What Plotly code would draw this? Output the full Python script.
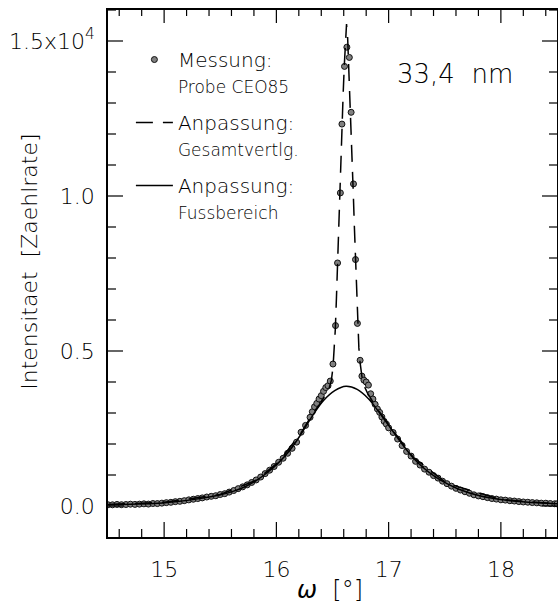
import plotly.graph_objects as go

# ---- measured data (omega in degrees, intensity in counts) ----
meas_x = [14.50, 14.54, 14.58, 14.62, 14.66, 14.70, 14.74, 14.78, 14.82, 14.86,
          14.90, 14.94, 14.98, 15.02, 15.06, 15.10, 15.14, 15.18, 15.22, 15.26,
          15.30, 15.34, 15.38, 15.42, 15.46, 15.50, 15.54, 15.58, 15.62, 15.66,
          15.70, 15.74, 15.78, 15.82, 15.86, 15.90, 15.94, 15.98, 16.02, 16.06,
          16.10, 16.14, 16.18, 16.22, 16.26, 16.30, 16.32, 16.34, 16.36, 16.38,
          16.40, 16.42, 16.44, 16.46, 16.48, 16.504, 16.527, 16.545, 16.570, 16.584,
          16.607, 16.628, 16.650, 16.666, 16.687, 16.705, 16.722, 16.746, 16.762, 16.78,
          16.80, 16.82, 16.84, 16.86, 16.88, 16.90, 16.92, 16.94, 16.96, 16.98,
          17.00, 17.04, 17.08, 17.12, 17.16, 17.20, 17.24, 17.28, 17.32, 17.36,
          17.40, 17.44, 17.48, 17.52, 17.56, 17.60, 17.64, 17.68, 17.72, 17.76,
          17.80, 17.84, 17.88, 17.92, 17.96, 18.00, 18.04, 18.08, 18.12, 18.16,
          18.20, 18.24, 18.28, 18.32, 18.36, 18.40, 18.44, 18.48, 18.50]
meas_y = [40, 38, 50, 42, 48, 58, 52, 60, 70, 62,
          80, 78, 92, 108, 118, 140, 150, 172, 198, 218,
          240, 262, 290, 312, 332, 370, 398, 448, 500, 560,
          618, 682, 760, 840, 935, 1045, 1155, 1275, 1410, 1540,
          1700, 1860, 2060, 2380, 2600, 2860, 3040, 3200, 3310, 3450,
          3560, 3700, 3820, 3880, 4030, 4580, 5820, 7840, 10100, 12320,
          14180, 14800, 14470, 12700, 10390, 7950, 5890, 4700, 4190, 4060,
          4000, 3900, 3620, 3450, 3280, 3130, 3020, 2870, 2730, 2640,
          2520, 2370, 2160, 1950, 1760, 1610, 1440, 1320, 1190, 1090,
          980, 900, 800, 720, 640, 570, 515, 460, 410, 360,
          325, 300, 270, 240, 222, 200, 190, 170, 160, 142,
          130, 122, 110, 102, 92, 90, 80, 72, 70]

# ---- fit: total distribution (dashed) ----
tot_x = [14.50, 15.00, 15.50, 15.82, 16.02, 16.22, 16.32, 16.40, 16.44, 16.47,
         16.49, 16.505, 16.515, 16.525, 16.535, 16.545, 16.555, 16.565, 16.575, 16.585,
         16.595, 16.605, 16.615, 16.625, 16.635, 16.645, 16.655, 16.665, 16.675, 16.685,
         16.695, 16.705, 16.715, 16.725, 16.735, 16.745, 16.765, 16.785, 16.815, 16.845,
         16.88, 16.92, 17.02, 17.22, 17.52, 18.00, 18.50]
tot_y = [50, 120, 370, 830, 1420, 2360, 2960, 3350, 3600, 3800,
         4050, 4500, 5100, 5700, 6700, 7900, 9000, 10100, 11300, 12400,
         13300, 14200, 15100, 15550, 15100, 14200, 13300, 12400, 11300, 10100,
         9000, 7900, 6700, 5700, 5100, 4650, 4100, 3850, 3620, 3450,
         3220, 3030, 2520, 1570, 730, 210, 70]

# ---- fit: foot region (solid) ----
foot_x = [14.50, 14.70, 14.90, 15.10, 15.30, 15.50, 15.62, 15.72, 15.82, 15.92,
          16.02, 16.12, 16.22, 16.32, 16.42, 16.52, 16.62, 16.72, 16.82, 16.92,
          17.02, 17.12, 17.22, 17.32, 17.42, 17.52, 17.62, 17.82, 18.02, 18.22, 18.50]
foot_y = [40, 60, 80, 140, 230, 360, 480, 620, 820, 1080,
          1400, 1800, 2320, 2900, 3400, 3720, 3860, 3760, 3460, 3000,
          2500, 2000, 1550, 1200, 930, 720, 550, 320, 200, 130, 70]

# ---- axes and ticks ----
X_RANGE = [14.5, 18.5]
Y_RANGE = [-1000, 16000]
x_major = [15, 16, 17, 18]
x_minor = [round(14.6 + 0.2 * i, 1) for i in range(20)
           if round(14.6 + 0.2 * i, 1) not in (15.0, 16.0, 17.0, 18.0)]
y_major = [0, 5000, 10000, 15000]
y_major_text = ["0.0", "0.5", "1.0", "1.5x10<sup>4</sup>"]
y_minor = [v for v in range(0, 16001, 1000) if v not in y_major]

FONT = "DejaVu Sans"
W = 200

fig = go.Figure()
fig.add_trace(go.Scatter(
    x=meas_x, y=meas_y, mode="markers", legendgroup="a",
    name="Messung:<br><span style='font-size:17px'>Probe CEO85</span>",
    marker=dict(size=6, color="#808080", line=dict(color="#111111", width=1)),
))
fig.add_trace(go.Scatter(
    x=tot_x, y=tot_y, mode="lines", legendgroup="b",
    name="Anpassung:<br><span style='font-size:17px'>Gesamtvertlg.</span>",
    line=dict(color="black", width=1.5, dash="17px,10px"),
))
fig.add_trace(go.Scatter(
    x=foot_x, y=foot_y, mode="lines", line_shape="spline", legendgroup="c",
    name="Anpassung:<br><span style='font-size:17px'>Fussbereich</span>",
    line=dict(color="black", width=1.5),
))

# inside tick marks on all four sides, drawn as line segments at the tick values
YSPAN = Y_RANGE[1] - Y_RANGE[0]
XSPAN = X_RANGE[1] - X_RANGE[0]
ypx = YSPAN / 527.0   # data units per pixel (vertical)
xpx = XSPAN / 449.0   # data units per pixel (horizontal)
tx, ty = [], []
for vals, length in ((x_major, 15), (x_minor, 8)):
    for v in vals:
        tx += [v, v, None, v, v, None]
        ty += [Y_RANGE[0], Y_RANGE[0] + length * ypx, None,
               Y_RANGE[1], Y_RANGE[1] - (length - 2) * ypx, None]
for vals, length in ((y_major, 15), (y_minor, 8)):
    for v in vals:
        tx += [X_RANGE[0], X_RANGE[0] + length * xpx, None,
               X_RANGE[1], X_RANGE[1] - length * xpx, None]
        ty += [v, v, None, v, v, None]
fig.add_trace(go.Scatter(
    x=tx, y=ty, mode="lines", showlegend=False, hoverinfo="skip",
    line=dict(color="black", width=1.2), connectgaps=False,
))

fig.update_layout(
    template="none",
    width=558, height=610,
    margin=dict(l=108, r=1, t=10, b=73),
    paper_bgcolor="white", plot_bgcolor="white",
    font=dict(family=FONT, color="black"),
    showlegend=True,
    legend=dict(
        x=0.051, y=0.943, xanchor="left", yanchor="top",
        bgcolor="rgba(0,0,0,0)", borderwidth=0,
        font=dict(family=FONT, size=20, color="black", weight=W),
        valign="top", itemwidth=37, tracegroupgap=8,
    ),
    xaxis=dict(
        range=X_RANGE, tickmode="array", tickvals=x_major,
        showline=True, linecolor="black", linewidth=1.5, mirror=True,
        ticks="", showgrid=False, zeroline=False,
        tickfont=dict(family=FONT, size=22, color="black", weight=W),
        ticklabelstandoff=12,
    ),
    yaxis=dict(
        range=Y_RANGE, tickmode="array", tickvals=y_major, ticktext=y_major_text,
        showline=True, linecolor="black", linewidth=1.5, mirror=True,
        ticks="", showgrid=False, zeroline=False,
        tickfont=dict(family=FONT, size=22, color="black", weight=W),
        ticklabelstandoff=7,
    ),
    annotations=[
        dict(text="Intensitaet  [Zaehlrate]", xref="paper", yref="paper",
             x=-0.174, y=0.522, xanchor="center", yanchor="middle",
             textangle=-90, showarrow=False,
             font=dict(family=FONT, size=22, color="black", weight=W)),
        dict(text="<i>ω</i>  [°]", xref="paper", yref="paper",
             x=0.494, y=-0.10, xanchor="center", yanchor="middle", showarrow=False,
             font=dict(family=FONT, size=24, color="black", weight=W)),
        dict(text="33,4  nm", xref="paper", yref="paper",
             x=0.773, y=0.879, xanchor="center", yanchor="middle", showarrow=False,
             font=dict(family=FONT, size=26, color="black", weight=W)),
    ],
)

fig.write_html("out.html")
